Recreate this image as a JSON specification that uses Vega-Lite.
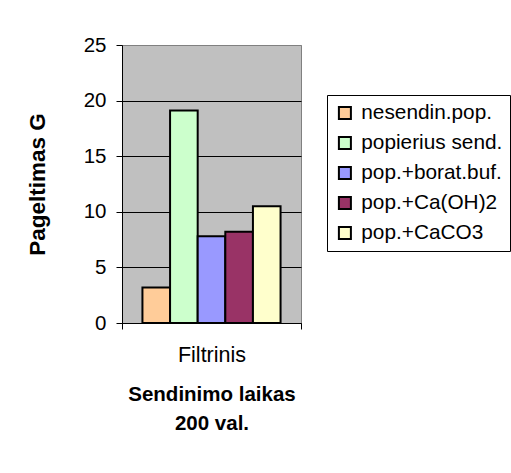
{
  "$schema": "https://vega.github.io/schema/vega-lite/v6.json",
  "width": 179,
  "height": 278,
  "autosize": {"type": "none"},
  "padding": {"left": 122, "top": 45, "right": 210, "bottom": 150},
  "background": "white",
  "config": {
    "font": "Liberation Sans",
    "view": {"fill": "#C0C0C0", "stroke": "#808080", "strokeWidth": 1}
  },
  "data": {
    "values": [
      {"laikas": "Filtrinis", "serija": "nesendin.pop.", "G": 3.2},
      {"laikas": "Filtrinis", "serija": "popierius send.", "G": 19.1},
      {"laikas": "Filtrinis", "serija": "pop.+borat.buf.", "G": 7.8},
      {"laikas": "Filtrinis", "serija": "pop.+Ca(OH)2", "G": 8.2},
      {"laikas": "Filtrinis", "serija": "pop.+CaCO3", "G": 10.5}
    ]
  },
  "mark": {"type": "bar", "stroke": "black", "strokeWidth": 2},
  "encoding": {
    "x": {
      "field": "laikas",
      "type": "nominal",
      "scale": {"paddingInner": 0, "paddingOuter": 0},
      "axis": {
        "title": ["Sendinimo laikas", "200 val."],
        "titleFontSize": 20.5,
        "titleFontWeight": "bold",
        "titleLineHeight": 29,
        "titlePadding": 19,
        "titleColor": "black",
        "labelAngle": 0,
        "labelFontSize": 21.5,
        "labelPadding": 15,
        "labelColor": "black",
        "domainColor": "black",
        "tickColor": "black",
        "tickSize": 6,
        "tickBand": "extent",
        "grid": false
      }
    },
    "xOffset": {
      "field": "serija",
      "type": "nominal",
      "sort": ["nesendin.pop.", "popierius send.", "pop.+borat.buf.", "pop.+Ca(OH)2", "pop.+CaCO3"],
      "scale": {"paddingInner": 0, "paddingOuter": 0.74}
    },
    "y": {
      "field": "G",
      "type": "quantitative",
      "scale": {"domain": [0, 25], "nice": false},
      "axis": {
        "title": "Pageltimas G",
        "values": [0, 5, 10, 15, 20, 25],
        "titleFontSize": 22.5,
        "titleFontWeight": "bold",
        "titlePadding": 34,
        "titleColor": "black",
        "labelFontSize": 20.5,
        "labelPadding": 10,
        "labelColor": "black",
        "tickSize": 6,
        "tickColor": "black",
        "domainColor": "black",
        "gridColor": {"condition": {"test": "datum.value === 25", "value": "#808080"}, "value": "black"}
      }
    },
    "color": {
      "field": "serija",
      "type": "nominal",
      "scale": {
        "domain": ["nesendin.pop.", "popierius send.", "pop.+borat.buf.", "pop.+Ca(OH)2", "pop.+CaCO3"],
        "range": ["#FFCC99", "#CCFFCC", "#9999FF", "#993366", "#FFFFCC"]
      },
      "legend": {
        "title": null,
        "orient": "none",
        "legendX": 205,
        "legendY": 50,
        "labelFontSize": 20.8,
        "labelColor": "black",
        "labelOffset": 6,
        "labelLimit": 300,
        "symbolType": "square",
        "symbolSize": 144,
        "symbolStrokeColor": "black",
        "symbolStrokeWidth": 2,
        "rowPadding": 8,
        "padding": 7.5,
        "strokeColor": "black"
      }
    }
  }
}
